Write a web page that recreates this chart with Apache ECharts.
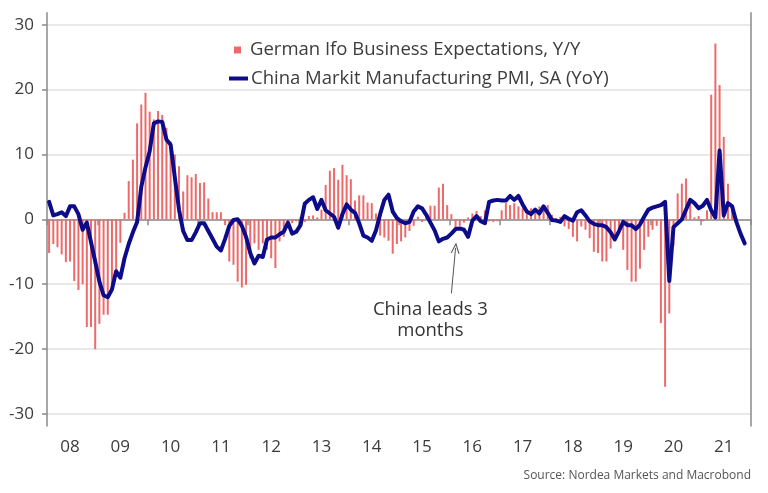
<!DOCTYPE html>
<html><head><meta charset="utf-8">
<script src="https://cdn.jsdelivr.net/npm/echarts@6/dist/echarts.min.js"></script>
<style>html,body{margin:0;padding:0;background:#fff}#c{width:768px;height:493px}</style>
</head><body><div id="c"></div>
<script>
// ---- data ----
const years = ['2008','2009','2010','2011','2012','2013','2014','2015','2016','2017','2018','2019','2020','2021'];
const yTicks = [-30, -20, -10, 0, 10, 20, 30];
const ifoName = 'German Ifo Business Expectations, Y/Y';
const chinaName = 'China Markit Manufacturing PMI, SA (YoY)';
const annotationText = 'China leads 3\nmonths';
const sourceText = 'Source: Nordea Markets and Macrobond';

// German Ifo Business Expectations, Y/Y (monthly)
const ifo2008 = [-5.2,-3.8,-4.3,-5.4,-6.6,-6.5,-9.5,-10.9,-10.0,-16.6,-16.6,-20.0];
const ifo2009 = [-16.1,-14.7,-14.7,-10.8,-7.8,-3.6,1.0,5.9,9.2,14.8,17.7,19.5];
const ifo2010 = [16.6,15.4,16.7,16.1,14.1,12.0,10.0,8.2,4.3,6.8,6.5,7.0];
const ifo2011 = [5.6,5.7,3.2,1.1,1.1,1.1,-0.9,-6.5,-7.0,-9.6,-10.5,-10.1];
const ifo2012 = [-6.0,-3.7,-4.7,-3.7,-4.7,-6.0,-7.5,-3.4,-2.7,-1.1,-0.6,-0.3];
const ifo2013 = [0.4,-0.4,0.5,0.6,0.3,1.5,5.3,7.5,7.9,6.1,8.4,6.8];
const ifo2014 = [6.2,2.9,3.7,3.7,2.6,2.5,0.9,-2.5,-2.8,-3.3,-5.3,-3.8];
const ifo2015 = [-3.4,-2.8,-1.8,-1.0,0.4,-0.4,0.8,2.1,2.1,4.9,5.5,2.2];
const ifo2016 = [0.8,-1.5,-1.0,-0.5,0.3,0.9,1.3,0.5,1.4,-0.3,-0.4,-0.3];
const ifo2017 = [1.4,2.5,2.2,2.5,2.0,1.7,1.2,1.7,1.4,2.0,2.2,2.2];
const ifo2018 = [0.7,0.2,0.4,-1.1,-1.5,-2.7,-3.4,-1.1,-1.6,-2.9,-5.0,-5.2];
const ifo2019 = [-6.5,-6.5,-4.5,-2.9,-2.2,-4.7,-7.8,-9.6,-9.6,-7.6,-4.7,-2.7];
const ifo2020 = [-1.6,-1.0,-16.0,-25.8,-14.5,-4.0,4.0,5.5,6.3,2.5,0.3,0.5];
const ifo2021 = [-0.3,1.4,19.2,27.1,20.7,12.7,5.5,1.5];

// China Markit Manufacturing PMI, SA (YoY), shifted 3 months forward
const china2008 = [2.7,0.6,0.8,1.1,0.5,2.0,2.0,0.8,-1.6,-0.5,-3.5,-6.5];
const china2009 = [-9.6,-11.7,-12.0,-10.8,-8.0,-9.0,-6.0,-3.8,-2.0,-0.4,5.0,8.0];
const china2010 = [10.5,14.8,15.1,15.0,12.3,11.5,6.5,1.5,-1.8,-3.2,-3.2,-2.0];
const china2011 = [-0.6,-0.6,-1.8,-3.0,-4.2,-4.8,-3.0,-1.0,-0.1,0.0,-1.0,-2.7];
const china2012 = [-5.2,-6.8,-5.6,-5.8,-3.1,-2.8,-2.8,-2.3,-1.9,-0.5,-2.2,-1.9];
const china2013 = [-0.9,2.4,3.0,3.4,1.6,3.0,1.4,0.9,0.4,-1.3,0.8,2.3];
const china2014 = [1.5,1.0,-0.6,-2.5,-2.8,-3.3,-1.7,0.8,3.0,3.8,1.2,0.2];
const china2015 = [-0.3,-0.6,-0.4,1.2,2.0,1.7,0.7,-0.5,-1.7,-3.4,-3.0,-2.8];
const china2016 = [-2.2,-1.5,-1.4,-1.6,-2.7,-0.2,0.5,-0.3,-0.6,2.7,2.9,3.0];
const china2017 = [2.9,2.9,3.6,3.0,3.6,2.3,1.2,0.8,1.5,0.9,2.0,1.0];
const china2018 = [-0.1,-0.2,-0.4,0.5,0.1,-0.2,1.1,1.4,0.6,-0.3,-0.7,-0.9];
const china2019 = [-0.9,-1.2,-2.0,-3.1,-1.8,-0.4,-0.9,-0.9,-1.5,-0.8,0.4,1.5];
const china2020 = [1.8,2.0,2.2,2.7,-9.5,-1.2,-0.6,0.0,1.5,3.0,2.5,1.7];
const china2021 = [2.1,3.0,1.4,0.3,10.6,0.6,2.5,2.0,-0.4,-2.2,-3.7];

// ---- build ----
const categories = [];
years.forEach(function (y) {
  for (let mo = 1; mo <= 12; mo++) categories.push(y + '-' + String(mo).padStart(2, '0'));
});
const ifo = [].concat(ifo2008, ifo2009, ifo2010, ifo2011, ifo2012, ifo2013, ifo2014,
  ifo2015, ifo2016, ifo2017, ifo2018, ifo2019, ifo2020, ifo2021);
const china = [].concat(china2008, china2009, china2010, china2011, china2012, china2013, china2014,
  china2015, china2016, china2017, china2018, china2019, china2020, china2021);

const FONT = '"Open Sans", "Noto Sans", sans-serif';
const TXT = '#3c3c3c';
const AXIS = '#8a8a8a';
const NAVY = '#0c0c8a';
const BARC = '#ee6a6a';
const YMIN = -31.85, YMAX = 31.85;

const chart = echarts.init(document.getElementById('c'), null, { renderer: 'canvas' });
chart.setOption({
  animation: false,
  backgroundColor: '#fff',
  textStyle: { fontFamily: FONT },
  title: {
    text: sourceText, right: 17, top: 470, padding: 0,
    textStyle: { fontSize: 12, color: '#555', fontWeight: 'normal', fontFamily: FONT }
  },
  legend: [
    {
      data: [{ name: ifoName, icon: 'rect', itemStyle: { color: BARC } }],
      left: 234, top: 40.5, padding: 0,
      itemWidth: 7, itemHeight: 7,
      textStyle: { fontSize: 18.5, color: TXT, fontFamily: FONT, padding: [0, 0, 0, 4] }
    },
    {
      data: [{ name: chinaName, icon: 'rect', itemStyle: { color: NAVY } }],
      left: 229, top: 69, padding: 0,
      itemWidth: 19, itemHeight: 4,
      textStyle: { fontSize: 18.5, color: TXT, fontFamily: FONT, padding: [0, 0, 0, -2] }
    }
  ],
  grid: { left: 47, right: 17, top: 12.7, bottom: 67, containLabel: false },
  xAxis: {
    type: 'category',
    data: categories,
    boundaryGap: true,
    axisLine: { show: true, lineStyle: { color: AXIS, width: 1.5 } },
    axisTick: { show: true, interval: 11, length: 6, lineStyle: { color: AXIS, width: 1.5 } },
    axisLabel: {
      interval: function (i) { return i % 12 === 5; },
      formatter: function (v) { return v.slice(2, 4); },
      fontSize: 17, color: TXT, fontFamily: FONT, margin: 13
    },
    splitLine: { show: false }
  },
  yAxis: [
    {
      type: 'value', min: YMIN, max: YMAX,
      axisLine: { show: true, lineStyle: { color: AXIS, width: 1.5 } },
      axisTick: { show: true, length: 5, customValues: yTicks, lineStyle: { color: AXIS, width: 1.5 } },
      axisLabel: { customValues: yTicks, fontSize: 17, color: TXT, fontFamily: FONT, margin: 13 },
      splitLine: { show: true, lineStyle: { color: '#e2e2e2', width: 1.5 } }
    },
    {
      type: 'value', min: YMIN, max: YMAX, position: 'right',
      axisLine: { show: true, lineStyle: { color: AXIS, width: 1.5 } },
      axisTick: { show: false }, axisLabel: { show: false }, splitLine: { show: false }
    }
  ],
  series: [
    {
      name: ifoName, type: 'bar', data: ifo, barWidth: 2,
      itemStyle: { color: BARC }, z: 2
    },
    {
      name: chinaName, type: 'line', data: china,
      showSymbol: false, symbol: 'none',
      lineStyle: { color: NAVY, width: 4, cap: 'round', join: 'round' },
      itemStyle: { color: NAVY }, z: 3,
      markLine: {
        silent: true, animation: false,
        symbol: ['none', 'path://M0,12 L6,0 L12,12 L10.4,12 L6,3.2 L1.6,12 Z'],
        symbolSize: [9, 11],
        lineStyle: { color: '#555', width: 1, type: 'solid' },
        label: { show: false },
        data: [[{ coord: ['2016-01', -11.4] }, { coord: ['2016-02', -4.4] }]]
      },
      markPoint: {
        silent: true, symbol: 'circle', symbolSize: 1,
        itemStyle: { color: 'rgba(0,0,0,0)' },
        label: {
          show: true, position: 'inside', formatter: annotationText,
          color: '#333', fontSize: 18.5, lineHeight: 21, align: 'center', fontFamily: FONT
        },
        data: [{ coord: ['2015-08', -15.6] }]
      }
    }
  ]
});
</script>
</body></html>
